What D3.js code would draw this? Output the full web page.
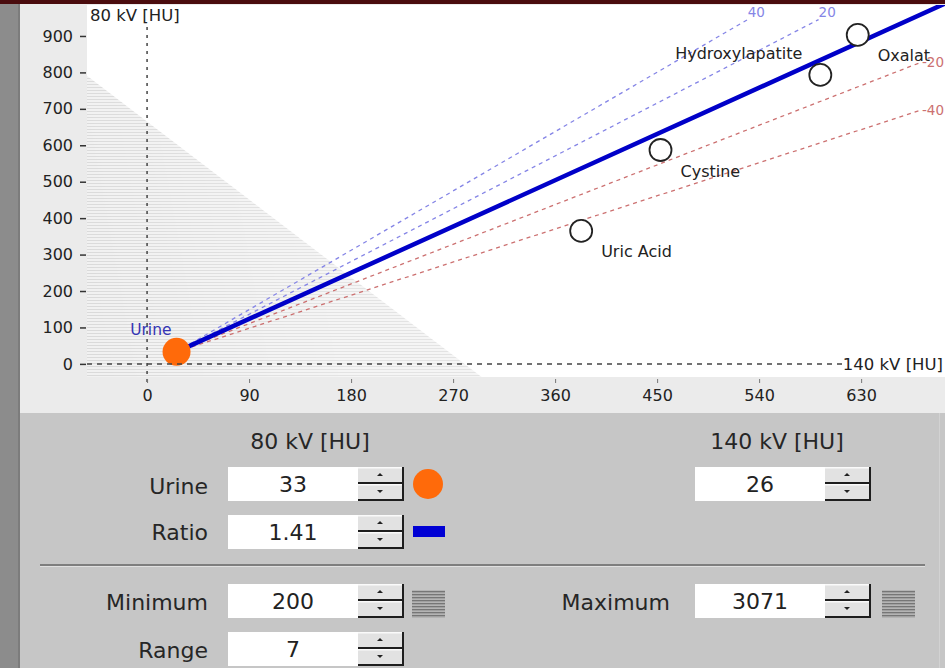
<!DOCTYPE html>
<html>
<head>
<meta charset="utf-8">
<script src="https://cdn.jsdelivr.net/npm/d3@7"></script>
<style>
  html, body { margin: 0; padding: 0; background: #c6c6c6; }
  svg { display: block; font-family: "DejaVu Sans", Verdana, sans-serif; }
</style>
</head>
<body>
<svg id="chart" width="945" height="668"></svg>
<script>
// Dual-energy stone classification: 140 kV attenuation on x, 80 kV on y (HU)
const xTicks = [0, 90, 180, 270, 360, 450, 540, 630];
const yTicks = [0, 100, 200, 300, 400, 500, 600, 700, 800, 900];
const xDomain = [-53, 704];
const yDomain = [-36, 985];

const urine80 = 33;
const urine140 = 26;
const ratio = 1.41;
const ratioOffsets = [40, 20, -20, -40];   // guide lines: ratio +/- offset/100

const stoneNames = ["Hydroxylapatite", "Oxalat", "Cystine", "Uric Acid"];
const stone140 = [594, 627, 453, 383];
const stone80 = [793, 903, 587, 365];

// Area below the minimum threshold, described by its axis intercepts
const minIntercept140 = 280;
const minIntercept80 = 665;

const minimumHU = 200;
const maximumHU = 3071;
const rangeValue = 7;

const W = 945, H = 668;
const svg = d3.select("#chart");

// ---- frame ----
svg.append("rect").attr("x", 0).attr("y", 0).attr("width", W).attr("height", H).attr("fill", "#c6c6c6");
svg.append("rect").attr("x", 20).attr("y", 0).attr("width", W - 20).attr("height", 413).attr("fill", "#ebebeb");
svg.append("rect").attr("x", 0).attr("y", 0).attr("width", 20).attr("height", H).attr("fill", "#8c8c8c");
svg.append("rect").attr("x", 18).attr("y", 0).attr("width", 2).attr("height", H).attr("fill", "#7c7c7c");
svg.append("rect").attr("x", 0).attr("y", 0).attr("width", W).attr("height", 4).attr("fill", "#4a0c0e");
svg.append("rect").attr("x", 939).attr("y", 413).attr("width", 1).attr("height", H - 413).attr("fill", "#d2d2d2");

// ---- scales ----
const x = d3.scaleLinear().domain(xDomain).range([87, 945]);
const y = d3.scaleLinear().domain(yDomain).range([377, 5]);
const [px0, px1] = x.range();
const [py0, py1] = y.range();

const defs = svg.append("defs");
defs.append("clipPath").attr("id", "plotClip")
  .append("rect").attr("x", px0).attr("y", py1).attr("width", px1 - px0).attr("height", py0 - py1);

const hatch = defs.append("pattern").attr("id", "hatch")
  .attr("patternUnits", "userSpaceOnUse").attr("width", 6).attr("height", 3);
hatch.append("rect").attr("width", 6).attr("height", 3).attr("fill", "#f1f1f1");
hatch.append("rect").attr("width", 6).attr("height", 1).attr("fill", "#dadada");

const fade = defs.append("linearGradient").attr("id", "fade")
  .attr("gradientUnits", "userSpaceOnUse")
  .attr("x1", px0).attr("y1", y(yDomain[0]) - 80).attr("x2", x(150)).attr("y2", y(300));
fade.append("stop").attr("offset", 0).attr("stop-color", "#fff").attr("stop-opacity", 1);
fade.append("stop").attr("offset", 1).attr("stop-color", "#fff").attr("stop-opacity", 0.75);
defs.append("mask").attr("id", "fadeMask")
  .append("rect").attr("x", px0).attr("y", py1).attr("width", px1 - px0).attr("height", py0 - py1)
  .attr("fill", "url(#fade)");

// plot background
svg.append("rect").attr("x", px0).attr("y", py1).attr("width", px1 - px0).attr("height", py0 - py1)
  .attr("fill", "#ffffff");

const plot = svg.append("g").attr("clip-path", "url(#plotClip)");

// below-minimum area
const minLine80 = v140 => minIntercept80 * (1 - v140 / minIntercept140);
const minLine140 = v80 => minIntercept140 * (1 - v80 / minIntercept80);
const minPoly = [
  [xDomain[0], minLine80(xDomain[0])],
  [xDomain[0], yDomain[0]],
  [minLine140(yDomain[0]), yDomain[0]]
];
plot.append("path")
  .attr("d", d3.line().x(d => x(d[0])).y(d => y(d[1]))(minPoly) + "Z")
  .attr("fill", "url(#hatch)")
  .attr("mask", "url(#fadeMask)");

// zero reference lines (dashed axes)
svg.append("line")
  .attr("x1", x(0)).attr("x2", x(0)).attr("y1", 27).attr("y2", py0 + 6)
  .attr("stroke", "#444").attr("stroke-width", 1.5).attr("stroke-dasharray", "3,5");

const xTitle = svg.append("text")
  .attr("x", 943).attr("y", y(0)).attr("dy", "0.35em")
  .attr("text-anchor", "end").attr("font-size", 16.5).attr("fill", "#222")
  .text("140 kV [HU]");
const xTitleW = xTitle.node().getComputedTextLength();
svg.append("line")
  .attr("x1", px0).attr("x2", 943 - xTitleW).attr("y1", y(0)).attr("y2", y(0))
  .attr("stroke", "#444").attr("stroke-width", 1.5).attr("stroke-dasharray", "5,5");

svg.append("text")
  .attr("x", 90).attr("y", 21)
  .attr("font-size", 16.5).attr("fill", "#222")
  .text("80 kV [HU]");

// ratio guide lines through the urine point
const guideMax140 = 682, guideMax80 = 945;
ratioOffsets.forEach(off => {
  const slope = ratio + off / 100;
  let ex = urine140 + (guideMax80 - urine80) / slope;
  let ey = guideMax80;
  let top = true;
  if (ex > guideMax140) {
    ex = guideMax140;
    ey = urine80 + slope * (guideMax140 - urine140);
    top = false;
  }
  const col = off > 0 ? "#8585e6" : "#cc7070";
  plot.append("line")
    .attr("x1", x(urine140)).attr("y1", y(urine80))
    .attr("x2", x(ex)).attr("y2", y(ey))
    .attr("stroke", col).attr("stroke-width", 1.3).attr("stroke-dasharray", "4,4");
  svg.append("text")
    .attr("x", top ? x(ex) : W - 1).attr("y", y(ey) + (top ? -3 : 0))
    .attr("dy", top ? 0 : "0.35em")
    .attr("text-anchor", top ? "start" : "end")
    .attr("font-size", 13.5).attr("fill", col)
    .text(off);
});

// measured ratio line
plot.append("line")
  .attr("x1", x(urine140)).attr("y1", y(urine80))
  .attr("x2", x(xDomain[1])).attr("y2", y(urine80 + ratio * (xDomain[1] - urine140)))
  .attr("stroke", "#0000c8").attr("stroke-width", 4.5).attr("stroke-linecap", "round");

// reference stones
const stones = stoneNames.map((n, i) => ({ name: n, v140: stone140[i], v80: stone80[i] }));
const aboveLeft = new Set(["Hydroxylapatite"]);
plot.selectAll("circle.stone").data(stones).join("circle")
  .attr("class", "stone")
  .attr("cx", d => x(d.v140)).attr("cy", d => y(d.v80)).attr("r", 11)
  .attr("fill", "#fff").attr("stroke", "#222").attr("stroke-width", 1.8);
svg.selectAll("text.stone").data(stones).join("text")
  .attr("class", "stone")
  .attr("x", d => x(d.v140) + (aboveLeft.has(d.name) ? -18 : 20))
  .attr("y", d => y(d.v80) + (aboveLeft.has(d.name) ? -22 : 21))
  .attr("dy", "0.35em")
  .attr("text-anchor", d => aboveLeft.has(d.name) ? "end" : "start")
  .attr("font-size", 16).attr("fill", "#222")
  .text(d => d.name);

// urine point
plot.append("circle")
  .attr("cx", x(urine140)).attr("cy", y(urine80)).attr("r", 14)
  .attr("fill", "#ff6a0a");
svg.append("text")
  .attr("x", x(urine140) - 5).attr("y", y(urine80) - 22)
  .attr("text-anchor", "end").attr("dy", "0.35em")
  .attr("font-size", 15.5).attr("fill", "#3434b4")
  .text("Urine");

// axes
const yAxis = svg.append("g").attr("transform", `translate(${px0 - 1},0)`)
  .call(d3.axisLeft(y).tickValues(yTicks).tickSize(6).tickPadding(7));
const xAxis = svg.append("g").attr("transform", `translate(0,${py0 + 2})`)
  .call(d3.axisBottom(x).tickValues(xTicks).tickSize(4).tickPadding(7));
[yAxis, xAxis].forEach(g => {
  g.select(".domain").remove();
  g.selectAll("text").attr("font-size", 16).attr("fill", "#222")
    .attr("font-family", "\"DejaVu Sans\", Verdana, sans-serif");
  g.selectAll("line").attr("stroke", "#333").attr("stroke-width", 1.5);
});
xAxis.selectAll("line").attr("stroke", "#777").attr("stroke-width", 1);

// ---- control panel ----
const panel = svg.append("g").attr("font-size", 22).attr("fill", "#262626");

function spinner(g, sx, sy, h) {
  const w = 46, half = h / 2;
  [0, 1].forEach(k => {
    const by = sy + k * half;
    g.append("rect").attr("x", sx).attr("y", by).attr("width", w).attr("height", half)
      .attr("fill", "#e2e2e2");
    g.append("rect").attr("x", sx).attr("y", by).attr("width", w - 2).attr("height", 1.5).attr("fill", "#fafafa");
    g.append("rect").attr("x", sx).attr("y", by + half - 2).attr("width", w).attr("height", 2).attr("fill", "#1e1e1e");
    g.append("rect").attr("x", sx + w - 2).attr("y", by).attr("width", 2).attr("height", half).attr("fill", "#1e1e1e");
    const cx = sx + w / 2 - 1, cy = by + half / 2 - 1;
    const tri = k === 0
      ? `M${cx - 3},${cy + 1.5}L${cx + 3},${cy + 1.5}L${cx},${cy - 1.5}Z`
      : `M${cx - 3},${cy - 1.5}L${cx + 3},${cy - 1.5}L${cx},${cy + 1.5}Z`;
    g.append("path").attr("d", tri).attr("fill", "#222");
  });
}

function field(g, bx, by, value) {
  const bw = 130, bh = 34;
  g.append("rect").attr("x", bx).attr("y", by).attr("width", bw).attr("height", bh).attr("fill", "#fff");
  g.append("text").attr("x", bx + bw / 2).attr("y", by + bh / 2).attr("dy", "0.35em")
    .attr("text-anchor", "middle").attr("fill", "#222").text(value);
  spinner(g, bx + bw, by, bh);
}

function hatchIcon(g, hx, hy) {
  g.append("rect").attr("x", hx).attr("y", hy).attr("width", 33).attr("height", 28).attr("fill", "#b4b4b4");
  d3.range(9).forEach(i => {
    g.append("rect").attr("x", hx).attr("y", hy + 1 + i * 3).attr("width", 33).attr("height", 1.3).attr("fill", "#767676");
  });
}

function rowLabel(g, rx, ry, t) {
  g.append("text").attr("x", rx).attr("y", ry).attr("dy", "0.35em").attr("text-anchor", "end").text(t);
}

panel.append("text").attr("x", 310).attr("y", 441).attr("dy", "0.35em").attr("text-anchor", "middle").text("80 kV [HU]");
panel.append("text").attr("x", 777).attr("y", 441).attr("dy", "0.35em").attr("text-anchor", "middle").text("140 kV [HU]");

rowLabel(panel, 208, 486, "Urine");
field(panel, 228, 467, urine80);
panel.append("circle").attr("cx", 428).attr("cy", 484).attr("r", 15).attr("fill", "#ff6a0a");
field(panel, 695, 467, urine140);

rowLabel(panel, 208, 532, "Ratio");
field(panel, 228, 515, ratio.toFixed(2));
panel.append("rect").attr("x", 413).attr("y", 526).attr("width", 32).attr("height", 11).attr("fill", "#0000d4");

panel.append("rect").attr("x", 40).attr("y", 564).attr("width", 885).attr("height", 2).attr("fill", "#7e7e7e");
panel.append("rect").attr("x", 40).attr("y", 566).attr("width", 885).attr("height", 1).attr("fill", "#e0e0e0");

rowLabel(panel, 208, 602, "Minimum");
field(panel, 228, 584, minimumHU);
hatchIcon(panel, 412, 590);
rowLabel(panel, 670, 602, "Maximum");
field(panel, 695, 584, maximumHU);
hatchIcon(panel, 882, 590);

rowLabel(panel, 208, 650, "Range");
field(panel, 228, 632, rangeValue);
</script>
</body>
</html>
